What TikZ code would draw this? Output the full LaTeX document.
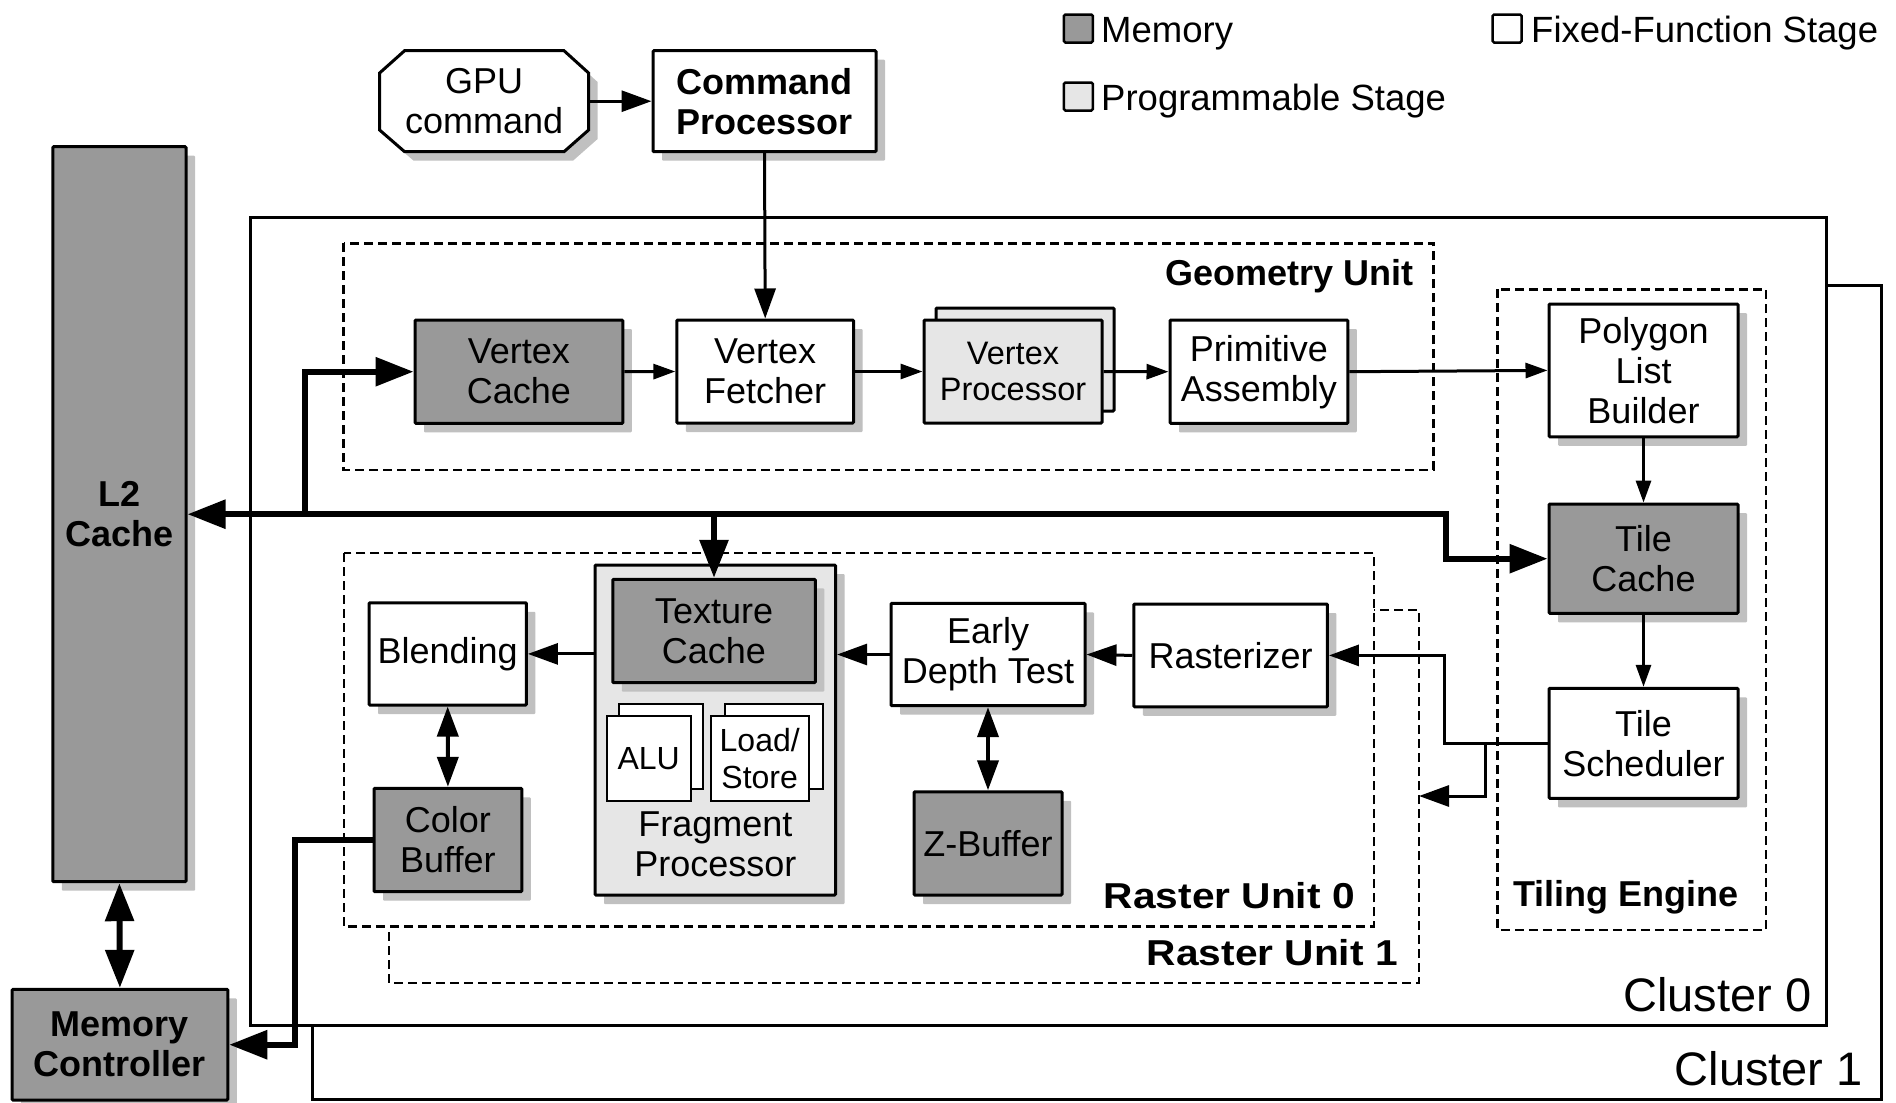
\documentclass[tikz,border=0pt]{standalone}
\usepackage{fontspec}
\setmainfont{Liberation Sans}
\usetikzlibrary{arrows.meta}
\definecolor{memc}{HTML}{999999}
\definecolor{progc}{HTML}{E6E6E6}
\definecolor{shadc}{HTML}{C0C0C0}
\tikzset{
  smalltip/.tip={Triangle[length=22pt,width=15pt]},
  medtip/.tip={Triangle[length=30pt,width=21pt]},
  bigtip/.tip={Triangle[length=38pt,width=28pt]},
  shadowed/.style={preaction={draw=none,fill=shadc,transform canvas={shift={(9pt,-9pt)}}}},
  nf/.style={font=\fontsize{36}{40}\selectfont},
  bf/.style={font=\fontsize{36}{40}\selectfont\bfseries},
  widebf/.style={font=\fontsize{36}{40}\selectfont\bfseries\addfontfeatures{FakeStretch=1.13}},
  blk/.style={draw, line width=3pt, rounded corners=1pt, inner sep=0pt, align=center, nf},
  fixbox/.style={blk, fill=white, shadowed},
  membox/.style={blk, fill=memc, shadowed},
  progbox/.style={blk, fill=progc},
  subbox/.style={draw, line width=2pt, fill=white, inner sep=0pt, align=center, font=\fontsize{32}{36.5}\selectfont},
  clusterbox/.style={draw, line width=3pt, fill=white},
  dashbox/.style={draw, line width=2.5pt, dash pattern=on 9pt off 5pt},
  legsq/.style={draw, line width=2.5pt, rounded corners=1.5pt, minimum width=29pt, minimum height=28pt, inner sep=0pt},
  legtxt/.style={font=\fontsize{36.5}{40}\selectfont, anchor=base west, inner sep=0pt},
  conn1/.style={line width=3pt, -smalltip},
  conn2/.style={line width=3pt, -medtip},
  conn2b/.style={line width=4pt, medtip-medtip},
  bus/.style={line width=6pt, line join=miter},
}
\begin{document}
\begin{tikzpicture}[x=1pt,y=-1pt]
\useasboundingbox (0,0) rectangle (1896,1103);

% legend
\node[legsq, fill=memc] (legmem) at (1078.3,28.5) {};
\node[legtxt] (legmemt) at (1101,42) {Memory};
\node[legsq, fill=progc] (legprog) at (1078.3,96.5) {};
\node[legtxt] (legprogt) at (1101,110) {Programmable Stage};
\node[legsq, fill=white] (legfix) at (1507.2,28.5) {};
\node[legtxt] (legfixt) at (1531,42) {Fixed-Function Stage};

% clusters
\draw[clusterbox] (312.5,285) rectangle (1881,1099);
\draw[clusterbox] (250,217.7) rectangle (1826.7,1025.7);
\node[font=\fontsize{47}{50}\selectfont, anchor=base east, inner sep=0pt] (c1lbl) at (1863,1085) {Cluster 1};
\node[font=\fontsize{47}{50}\selectfont, anchor=base east, inner sep=0pt] (c0lbl) at (1811.5,1011.7) {Cluster 0};

% units
\draw[dashbox] (343.7,243.3) rectangle (1433.4,470);
\draw[dashbox] (1497.5,289.3) rectangle (1766,930);
\draw[dashbox, fill=white] (389,610) rectangle (1419,983);
\draw[dashbox, fill=white] (344,553) rectangle (1374,926.7);
\node[bf, anchor=base east, inner sep=0pt] (gulbl) at (1413.5,285) {Geometry Unit};
\node[bf, anchor=base, inner sep=0pt] (telbl) at (1626,906) {Tiling Engine};
\node[widebf, anchor=base east, inner sep=0pt] (ru0lbl) at (1355,908.3) {Raster Unit 0};
\node[widebf, anchor=base east, inner sep=0pt] (ru1lbl) at (1398,965) {Raster Unit 1};

% top
\draw[line width=3pt, fill=white, shadowed] (404.6,50.7) -- (564,50.7) -- (588.6,73) -- (588.6,130) -- (564,151.7) -- (404.6,151.7) -- (379.6,130) -- (379.6,73) -- cycle;
\node[nf, align=center, inner sep=0pt, minimum width=209pt, minimum height=101pt] (gpu) at (484.1,101.2) {GPU\\command};
\node[fixbox, bf, minimum width=223pt, minimum height=101pt] (cp) at (764.5,101.2) {Command\\Processor};

% memory side
\node[membox, bf, minimum width=133.3pt, minimum height=735pt] (l2) at (119.4,514.2) {L2\\Cache};
\node[membox, bf, minimum width=215.7pt, minimum height=110.7pt] (mc) at (119.9,1044.7) {Memory\\Controller};

% geometry unit
\node[membox, minimum width=207.8pt, minimum height=103.3pt] (vc) at (518.9,371.7) {Vertex\\Cache};
\node[fixbox, minimum width=176.7pt, minimum height=103pt] (vf) at (765.2,371.5) {Vertex\\Fetcher};
\node[progbox, minimum width=178pt, minimum height=103pt] (vpback) at (1025,359.5) {};
\node[progbox, minimum width=178pt, minimum height=103pt, font=\fontsize{32.5}{36}\selectfont] (vp) at (1013,371.5) {Vertex\\Processor};
\node[fixbox, minimum width=177.8pt, minimum height=103.3pt] (pa) at (1258.9,371.7) {Primitive\\Assembly};

% tiling engine
\node[fixbox, minimum width=189pt, minimum height=132.7pt] (plb) at (1643.5,370.4) {Polygon\\List\\Builder};
\node[membox, minimum width=189pt, minimum height=109.3pt] (tilec) at (1643.5,558.7) {Tile\\Cache};
\node[fixbox, minimum width=189pt, minimum height=110pt] (ts) at (1643.5,743.3) {Tile\\Scheduler};

% raster unit
\node[fixbox, minimum width=193.7pt, minimum height=102.7pt] (rast) at (1230.6,655.4) {Rasterizer};
\node[fixbox, minimum width=194pt, minimum height=102.4pt] (edt) at (988,654.5) {Early\\Depth Test};
\node[membox, minimum width=148pt, minimum height=103.3pt] (zb) at (988,843.4) {Z-Buffer};
\node[progbox, shadowed, minimum width=240.6pt, minimum height=330pt] (fp) at (715.3,730) {};
\node[membox, minimum width=202.5pt, minimum height=103.4pt] (texc) at (714,631) {Texture\\Cache};
\node[subbox, minimum width=84pt, minimum height=84.7pt] (aluback) at (660.7,746.4) {};
\node[subbox, minimum width=84pt, minimum height=84.7pt] (alu) at (648.7,758.4) {ALU};
\node[subbox, minimum width=98pt, minimum height=84.7pt] (lsback) at (773.7,746.4) {};
\node[subbox, minimum width=98pt, minimum height=84.7pt] (ls) at (759.7,758.4) {Load/\\Store};
\node[nf, align=center, inner sep=0pt] (fplbl) at (715.3,844) {Fragment\\Processor};
\node[fixbox, minimum width=157.4pt, minimum height=102.3pt] (blend) at (447.7,653.9) {Blending};
\node[membox, minimum width=147.7pt, minimum height=103.4pt] (cb) at (447.9,840) {Color\\Buffer};

% coordinates for connectors
\coordinate (busR) at (1446,514.2);
\coordinate (busV) at (305,514.2);
\coordinate (cbk) at (295,840);
\coordinate (tsk) at (1444,743.3);
\coordinate (tsb) at (1485,743.3);
\coordinate (ru1in) at (1419,796);

% thin connectors
\draw[conn2] (gpu.east) -- (cp.west);
\draw[conn2] (cp.south) -- (vf.north);
\draw[conn1] (vc.east) -- (vf.west);
\draw[conn1] (vf.east) -- (vp.west);
\draw[conn1] (vp.east) -- (pa.west);
\draw[conn1] (pa.east) -- (plb.west);
\draw[conn1] (plb.south) -- (tilec.north);
\draw[conn1] (tilec.south) -- (ts.north);
\draw[conn2] (rast.west) -- (edt.east);
\draw[conn2] (edt.west) -- (edt.west -| fp.east);
\draw[conn2] (blend.east -| fp.west) -- (blend.east);
\draw[conn2b] (blend.south) -- (cb.north);
\draw[conn2b] (edt.south) -- (zb.north);
\draw[conn2] (ts.west) -- (tsk) |- (rast.east);
\draw[conn2] (tsb) |- (ru1in);

% bus connectors
\draw[bus, bigtip-bigtip] (busR -| l2.east) -- (busR) |- (tilec.west);
\draw[bus, -bigtip] (busV) |- (vc.west);
\draw[bus, -bigtip] (texc.north |- busR) -- (texc.north);
\draw[bus, -bigtip] (cb.west) -- (cbk) |- (mc.east);
\draw[bus, bigtip-bigtip] (l2.south) -- (mc.north);
\end{tikzpicture}
\end{document}
